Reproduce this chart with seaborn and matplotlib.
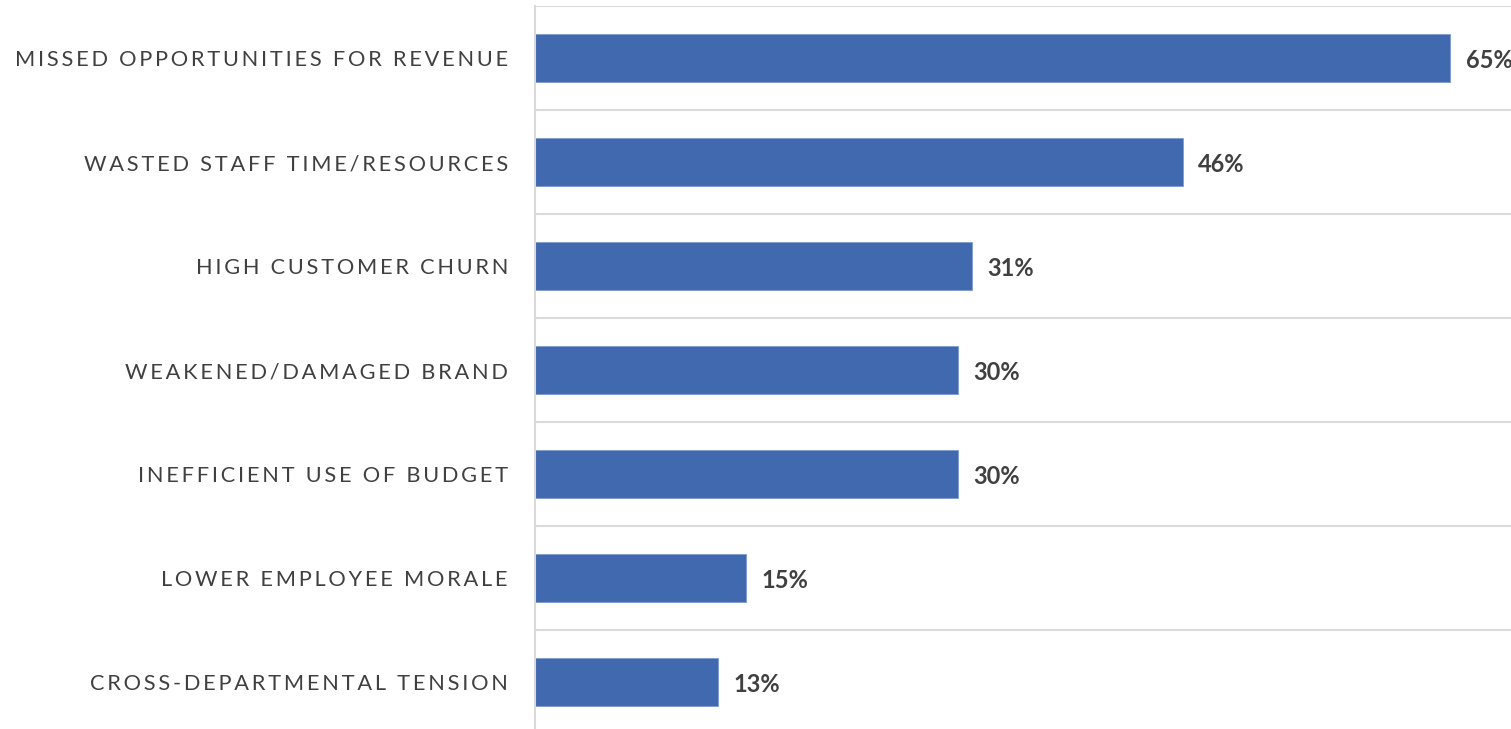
import matplotlib
matplotlib.use("Agg")
import matplotlib.pyplot as plt
import seaborn as sns
import pandas as pd
from matplotlib.ticker import FixedLocator

# Share of respondents citing each consequence
categories = [
    "MISSED OPPORTUNITIES FOR REVENUE",
    "WASTED STAFF TIME/RESOURCES",
    "HIGH CUSTOMER CHURN",
    "WEAKENED/DAMAGED BRAND",
    "INEFFICIENT USE OF BUDGET",
    "LOWER EMPLOYEE MORALE",
    "CROSS-DEPARTMENTAL TENSION",
]
values = [65, 46, 31, 30, 30, 15, 13]

BAR_COLOR = "#4169AF"
GRID_COLOR = "#D9D9D9"
TEXT_COLOR = "#404040"

sns.set_style("white")
plt.rcParams["font.family"] = ["Lato", "DejaVu Sans"]

df = pd.DataFrame({"category": categories, "value": values})

fig = plt.figure(figsize=(15.11, 7.29), dpi=100)
ax = fig.add_axes([535 / 1511, -5 / 729, 976 / 1511, 728 / 729])

sns.barplot(data=df, x="value", y="category", orient="h", color=BAR_COLOR,
            saturation=1, width=0.46, edgecolor="#7E9AD0", linewidth=0.6, ax=ax)

ax.set_xlim(0, 69.3)
ax.set_ylim(len(categories) - 0.5, -0.5)
ax.set_xlabel("")
ax.set_ylabel("")
ax.set_xticks([])

# Letter-spaced category labels
def tracked(s, gap="\u2009"):
    return gap.join(s)

ax.set_yticks(range(len(categories)))
ax.set_yticklabels([tracked(c) for c in categories], fontsize=15.7, color=TEXT_COLOR)
ax.tick_params(axis="y", length=0, pad=19.5)

# Separators between categories
ax.yaxis.set_minor_locator(FixedLocator([i - 0.5 for i in range(len(categories) + 1)]))
ax.grid(False)
ax.grid(True, axis="y", which="minor", color=GRID_COLOR, linewidth=1.5)
ax.tick_params(axis="y", which="minor", length=0)

for side in ["top", "right", "bottom"]:
    ax.spines[side].set_visible(False)
ax.spines["left"].set_color(GRID_COLOR)
ax.spines["left"].set_linewidth(1.5)
ax.set_axisbelow(True)

for i, v in enumerate(values):
    ax.annotate(f"{v}%", xy=(v, i), xytext=(11, -1.5), textcoords="offset points",
                va="center", ha="left", fontsize=17, fontweight="bold",
                color=TEXT_COLOR, annotation_clip=False)

fig.savefig("out.png", dpi=100)
